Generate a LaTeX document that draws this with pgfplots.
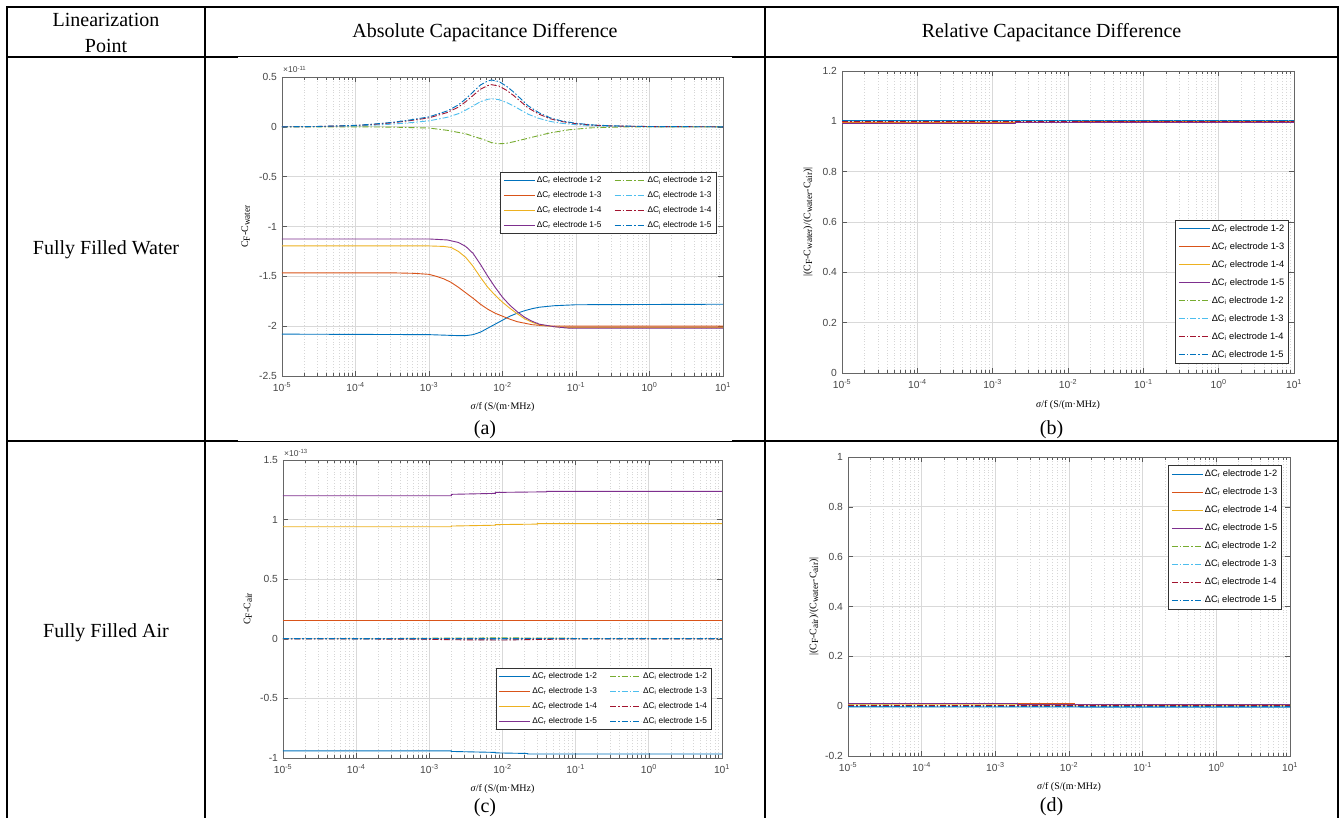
\documentclass[border=0pt]{standalone}
\usepackage{fontspec}
\setmainfont{Liberation Serif}
\newfontfamily\arialf{Liberation Sans}
\usepackage{pgfplots}
\pgfplotsset{compat=1.18}

\definecolor{mBlue}{rgb}{0,0.447,0.741}
\definecolor{mOrange}{rgb}{0.85,0.325,0.098}
\definecolor{mYellow}{rgb}{0.929,0.694,0.125}
\definecolor{mPurple}{rgb}{0.494,0.184,0.556}
\definecolor{mGreen}{rgb}{0.466,0.674,0.188}
\definecolor{mCyan}{rgb}{0.301,0.745,0.933}
\definecolor{mRed}{rgb}{0.635,0.078,0.184}

\newcommand{\tickfont}{\arialf\fontsize{10.3}{12}\selectfont}
\newcommand{\labfont}{\arialf\fontsize{12}{14}\selectfont}
\newcommand{\legfontA}{\arialf\fontsize{8.3}{10}\selectfont}
\newcommand{\legfontB}{\arialf\fontsize{9.3}{11}\selectfont}
\newcommand{\tabfont}{\fontsize{20}{23}\selectfont}
\newcommand{\smallfont}{\arialf\fontsize{8.5}{10}\selectfont}
\newcommand{\lsub}[1]{{\fontsize{9.3}{10}\selectfont\raisebox{-0.4ex}{#1}}}

\pgfplotsset{
  myaxis/.style={
    scale only axis, xmin=1e-5, xmax=10,
    xtick={1e-5,1e-4,1e-3,1e-2,1e-1,1,10},
    xticklabels={10\textsuperscript{-5},10\textsuperscript{-4},10\textsuperscript{-3},10\textsuperscript{-2},10\textsuperscript{-1},10\textsuperscript{0},10\textsuperscript{1}},
    minor xtick={2e-5,3e-5,4e-5,5e-5,6e-5,7e-5,8e-5,9e-5,
      2e-4,3e-4,4e-4,5e-4,6e-4,7e-4,8e-4,9e-4,
      2e-3,3e-3,4e-3,5e-3,6e-3,7e-3,8e-3,9e-3,
      0.02,0.03,0.04,0.05,0.06,0.07,0.08,0.09,
      0.2,0.3,0.4,0.5,0.6,0.7,0.8,0.9,
      2,3,4,5,6,7,8,9},
    xmajorgrids, xminorgrids, ymajorgrids,
    major grid style={draw=black!15, line width=0.7pt},
    minor grid style={draw=black!16, dash pattern=on 0.8pt off 2pt, line width=0.5pt},
    tick align=inside, major tick length=5pt, minor tick length=3pt,
    tick style={draw=black!65, line width=0.5pt},
    axis line style={draw=black!60, line width=0.7pt},
    tick label style={font=\tickfont, text=black!72},
    xticklabel style={yshift=-3pt},
    yticklabel style={xshift=-1.5pt},
    label style={font=\labfont, text=black!85},
    xlabel={\textit{σ}/f (S/(m·MHz)},
    every axis x label/.style={at={(axis description cs:0.5,-0.105)},anchor=center},
    legend image code/.code={\draw[##1, line width=1pt] (0pt,0pt) -- (31pt,0pt);},
    legend cell align=left,
  },
  myre/.style={line width=0.9pt},
  myim/.style={line width=0.9pt, dash pattern=on 6pt off 2pt on 1.5pt off 2pt},
  mylegA/.style={legend columns=2,
    legend style={font=\legfontA, draw=black!80, line width=0.6pt, fill=white,
      inner xsep=3pt, inner ysep=2pt, row sep=3pt,
      nodes={inner sep=1.5pt, text height=6.5pt, text depth=2.5pt},
      /tikz/every even column/.append style={column sep=11pt}}},
  mylegB/.style={legend columns=1,
    legend style={font=\legfontB, draw=black!80, line width=0.6pt, fill=white,
      inner xsep=3pt, inner ysep=2.5pt, row sep=5.5pt,
      nodes={inner sep=1.5pt, text height=7pt, text depth=2.5pt}}},
}

\begin{document}
\begin{tikzpicture}
\useasboundingbox (0pt,0pt) rectangle (1341pt,-818pt);
\fill[white] (0pt,0pt) rectangle (1341pt,-818pt);

% ---------- table lines ----------
\begin{scope}[line width=2pt]
\draw (6pt,-7pt) -- (1339pt,-7pt);
\draw (7pt,-7pt) -- (7pt,-818pt);
\draw (205pt,-7pt) -- (205pt,-818pt);
\draw (765pt,-7pt) -- (765pt,-818pt);
\draw (1338pt,-7pt) -- (1338pt,-818pt);
\draw (7pt,-57pt) -- (238pt,-57pt);
\draw (732pt,-57pt) -- (1338pt,-57pt);
\draw (7pt,-441pt) -- (238pt,-441pt);
\draw (732pt,-441pt) -- (1338pt,-441pt);
\end{scope}
\draw[line width=1pt] (238pt,-57pt) -- (732pt,-57pt);
\draw[line width=1pt] (238pt,-441pt) -- (732pt,-441pt);

% ---------- table text ----------
\node[anchor=base, font=\tabfont, inner sep=0pt] at (106pt,-27pt) {Linearization};
\node[anchor=base, font=\tabfont, inner sep=0pt] at (106pt,-53pt) {Point};
\node[anchor=base, font=\tabfont, inner sep=0pt] at (485pt,-38pt) {Absolute Capacitance Difference};
\node[anchor=base, font=\tabfont, inner sep=0pt] at (1051.5pt,-38pt) {Relative Capacitance Difference};
\node[anchor=base, font=\tabfont, inner sep=0pt] at (106pt,-255pt) {Fully Filled Water};
\node[anchor=base, font=\tabfont, inner sep=0pt] at (106pt,-637pt) {Fully Filled Air};
\node[font=\tabfont, inner sep=0pt] at (485pt,-430pt) {(a)};
\node[font=\tabfont, inner sep=0pt] at (1051.5pt,-430pt) {(b)};
\node[font=\tabfont, inner sep=0pt] at (485pt,-808pt) {(c)};
\node[font=\tabfont, inner sep=0pt] at (1051.5pt,-807pt) {(d)};

% ---------- (a) ----------
\begin{axis}[xmode=log, myaxis, name=pa, at={(282pt,-376pt)}, anchor=south west,
  width=441pt, height=299pt, ymin=-2.5, ymax=0.5,
  ytick={-2.5,-2,-1.5,-1,-0.5,0,0.5},
  yticklabels={-2.5,-2,-1.5,-1,-0.5,0,0.5},
  ylabel={C\lsub{F}-C\lsub{water}},
  every axis y label/.style={at={(axis description cs:-0.082,0.5)},anchor=center,rotate=90},
  mylegA, legend style={at={(0.985,0.475)}, anchor=south east}]
\addplot[myre, draw=mBlue] coordinates {(1e-5,-2.08)(1e-3,-2.085)(1.585e-3,-2.09)(2.512e-3,-2.095)(3.162e-3,-2.095)(3.981e-3,-2.085)(5.012e-3,-2.06)(6.310e-3,-2.02)(7.943e-3,-1.98)(1e-2,-1.94)(1.259e-2,-1.90)(1.585e-2,-1.87)(1.995e-2,-1.845)(2.512e-2,-1.825)(3.162e-2,-1.81)(5.012e-2,-1.795)(0.1,-1.785)(10,-1.78)};
\addplot[myim, draw=mGreen] coordinates {(1e-5,0)(1e-4,0)(3.162e-4,-0.003)(1e-3,-0.012)(1.778e-3,-0.035)(3.162e-3,-0.07)(5.623e-3,-0.13)(7.079e-3,-0.158)(8.913e-3,-0.17)(1.122e-2,-0.166)(1.413e-2,-0.15)(2.512e-2,-0.105)(4.467e-2,-0.06)(7.943e-2,-0.03)(0.1585,-0.01)(0.5012,0)(10,0)};
\addplot[myre, draw=mOrange] coordinates {(1e-5,-1.465)(3.162e-4,-1.465)(6.310e-4,-1.47)(1e-3,-1.48)(1.259e-3,-1.50)(1.585e-3,-1.525)(1.995e-3,-1.56)(2.512e-3,-1.61)(3.162e-3,-1.665)(3.981e-3,-1.72)(5.012e-3,-1.78)(6.310e-3,-1.83)(7.943e-3,-1.87)(1e-2,-1.90)(1.259e-2,-1.93)(1.585e-2,-1.955)(2.512e-2,-1.985)(3.981e-2,-1.998)(6.310e-2,-2.0)(10,-2.0)};
\addplot[myim, draw=mCyan] coordinates {(1e-5,0)(3.162e-5,0.0024)(1e-4,0.009)(1.778e-4,0.017)(3.162e-4,0.027)(5.623e-4,0.042)(1e-3,0.06)(1.778e-3,0.096)(2.512e-3,0.132)(3.162e-3,0.168)(3.981e-3,0.21)(5.012e-3,0.252)(6.310e-3,0.276)(7.079e-3,0.282)(8.913e-3,0.273)(1.122e-2,0.246)(1.413e-2,0.21)(1.778e-2,0.168)(2.239e-2,0.126)(3.162e-2,0.084)(4.467e-2,0.054)(6.310e-2,0.036)(0.1,0.021)(0.1778,0.011)(0.3162,0.006)(1,0.002)(10,0)};
\addplot[myre, draw=mYellow] coordinates {(1e-5,-1.195)(1e-3,-1.195)(1.585e-3,-1.2)(1.995e-3,-1.21)(2.512e-3,-1.25)(3.162e-3,-1.31)(3.981e-3,-1.40)(5.012e-3,-1.51)(6.310e-3,-1.61)(7.943e-3,-1.69)(1e-2,-1.76)(1.259e-2,-1.82)(1.585e-2,-1.875)(1.995e-2,-1.925)(2.512e-2,-1.96)(3.162e-2,-1.985)(5.012e-2,-2.005)(7.943e-2,-2.015)(10,-2.015)};
\addplot[myim, draw=mRed] coordinates {(1e-5,0)(3.162e-5,0.0036)(1e-4,0.0135)(1.778e-4,0.025)(3.162e-4,0.04)(5.623e-4,0.063)(1e-3,0.09)(1.778e-3,0.144)(2.512e-3,0.198)(3.162e-3,0.252)(3.981e-3,0.315)(5.012e-3,0.378)(6.310e-3,0.414)(7.079e-3,0.423)(8.913e-3,0.41)(1.122e-2,0.369)(1.413e-2,0.315)(1.778e-2,0.252)(2.239e-2,0.189)(3.162e-2,0.126)(4.467e-2,0.081)(6.310e-2,0.054)(0.1,0.0315)(0.1778,0.016)(0.3162,0.009)(1,0.003)(10,0)};
\addplot[myre, draw=mPurple] coordinates {(1e-5,-1.125)(1e-3,-1.125)(1.778e-3,-1.135)(2.512e-3,-1.16)(3.162e-3,-1.20)(3.981e-3,-1.27)(5.012e-3,-1.38)(6.310e-3,-1.50)(7.943e-3,-1.61)(1e-2,-1.71)(1.259e-2,-1.79)(1.585e-2,-1.855)(1.995e-2,-1.91)(2.512e-2,-1.95)(3.162e-2,-1.98)(5.012e-2,-2.005)(7.943e-2,-2.02)(10,-2.02)};
\addplot[myim, draw=mBlue] coordinates {(1e-5,0)(3.162e-5,0.004)(1e-4,0.015)(1.778e-4,0.028)(3.162e-4,0.045)(5.623e-4,0.07)(1e-3,0.10)(1.778e-3,0.16)(2.512e-3,0.22)(3.162e-3,0.28)(3.981e-3,0.35)(5.012e-3,0.42)(6.310e-3,0.46)(7.079e-3,0.47)(8.913e-3,0.455)(1.122e-2,0.41)(1.413e-2,0.35)(1.778e-2,0.28)(2.239e-2,0.21)(3.162e-2,0.14)(4.467e-2,0.09)(6.310e-2,0.06)(0.1,0.035)(0.1778,0.018)(0.3162,0.01)(1,0.003)(10,0)};
\legend{ΔC\textsubscript{r} electrode 1-2, ΔC\textsubscript{i} electrode 1-2,
        ΔC\textsubscript{r} electrode 1-3, ΔC\textsubscript{i} electrode 1-3,
        ΔC\textsubscript{r} electrode 1-4, ΔC\textsubscript{i} electrode 1-4,
        ΔC\textsubscript{r} electrode 1-5, ΔC\textsubscript{i} electrode 1-5}
\end{axis}
\node[anchor=base west, font=\smallfont, text=black!72, inner sep=0pt] at ([xshift=1pt,yshift=4pt]pa.north west) {×10\textsuperscript{-11}};

% ---------- (b) ----------
\begin{axis}[xmode=log, myaxis, name=pb, at={(842pt,-373pt)}, anchor=south west,
  width=452pt, height=302pt, ymin=0, ymax=1.2,
  ytick={0,0.2,0.4,0.6,0.8,1,1.2},
  yticklabels={0,0.2,0.4,0.6,0.8,1,1.2},
  ylabel={|(C\lsub{F}-C\lsub{water})/(C\lsub{water}-C\lsub{air})|},
  every axis y label/.style={at={(axis description cs:-0.075,0.5)},anchor=center,rotate=90},
  mylegB, legend style={at={(0.989,0.03)}, anchor=south east}]
\addplot[myre, draw=mBlue] coordinates {(1e-5,1.004)(10,1.004)};
\addplot[myre, draw=mOrange] coordinates {(1e-5,0.995)(1.2e-2,0.995)(1.2e-2,0.998)(10,0.998)};
\addplot[myre, draw=mYellow] coordinates {(1e-5,0.993)(2e-3,0.993)(2e-3,0.996)(10,0.997)};
\addplot[myre, draw=mPurple] coordinates {(1e-5,0.99)(2e-3,0.99)(2e-3,0.994)(1.2e-2,0.994)(1.2e-2,0.996)(10,0.996)};
\addplot[myim, draw=mGreen] coordinates {(1e-5,0.998)(10,0.998)};
\addplot[myim, draw=mCyan] coordinates {(1e-5,1.002)(10,1.002)};
\addplot[myim, draw=mRed] coordinates {(1e-5,1.0)(10,1.0)};
\addplot[myim, draw=mBlue] coordinates {(1e-5,1.005)(2e-3,1.005)(2e-3,1.004)(10,1.004)};
\legend{ΔC\textsubscript{r} electrode 1-2, ΔC\textsubscript{r} electrode 1-3,
        ΔC\textsubscript{r} electrode 1-4, ΔC\textsubscript{r} electrode 1-5,
        ΔC\textsubscript{i} electrode 1-2, ΔC\textsubscript{i} electrode 1-3,
        ΔC\textsubscript{i} electrode 1-4, ΔC\textsubscript{i} electrode 1-5}
\end{axis}

% ---------- (c) ----------
\begin{axis}[xmode=log, myaxis, name=pc, at={(283pt,-758pt)}, anchor=south west,
  width=439pt, height=298pt, ymin=-1, ymax=1.5,
  ytick={-1,-0.5,0,0.5,1,1.5},
  yticklabels={-1,-0.5,0,0.5,1,1.5},
  ylabel={C\lsub{F}-C\lsub{air}},
  every axis y label/.style={at={(axis description cs:-0.08,0.5)},anchor=center,rotate=90},
  mylegA, legend style={at={(0.977,0.096)}, anchor=south east}]
\addplot[myre, draw=mBlue] coordinates {(1e-5,-0.94)(2e-3,-0.94)(2e-3,-0.945)(8e-3,-0.953)(8e-3,-0.957)(2.2e-2,-0.962)(2.2e-2,-0.966)(10,-0.966)};
\addplot[myim, draw=mGreen] coordinates {(1e-5,0)(2.5e-4,0.002)(1e-3,0.005)(1e-2,0.008)(8e-2,0.005)(0.1,0.001)(10,0)};
\addplot[myre, draw=mOrange] coordinates {(1e-5,0.156)(10,0.156)};
\addplot[myim, draw=mCyan] coordinates {(1e-5,0)(2e-3,-0.005)(1.2e-2,-0.008)(5e-2,-0.002)(10,0)};
\addplot[myre, draw=mYellow] coordinates {(1e-5,0.94)(2e-3,0.94)(2e-3,0.946)(8e-3,0.953)(8e-3,0.958)(3e-2,0.962)(3e-2,0.966)(10,0.966)};
\addplot[myim, draw=mRed] coordinates {(1e-5,0)(8e-4,-0.003)(2e-3,-0.008)(1e-2,-0.01)(8e-2,-0.002)(10,0)};
\addplot[myre, draw=mPurple] coordinates {(1e-5,1.2)(2e-3,1.2)(2e-3,1.212)(8e-3,1.22)(8e-3,1.228)(4e-2,1.233)(4e-2,1.237)(10,1.237)};
\addplot[myim, draw=mBlue] coordinates {(1e-5,0)(10,0)};
\legend{ΔC\textsubscript{r} electrode 1-2, ΔC\textsubscript{i} electrode 1-2,
        ΔC\textsubscript{r} electrode 1-3, ΔC\textsubscript{i} electrode 1-3,
        ΔC\textsubscript{r} electrode 1-4, ΔC\textsubscript{i} electrode 1-4,
        ΔC\textsubscript{r} electrode 1-5, ΔC\textsubscript{i} electrode 1-5}
\end{axis}
\node[anchor=base west, font=\smallfont, text=black!72, inner sep=0pt] at ([xshift=1pt,yshift=4pt]pc.north west) {×10\textsuperscript{-13}};

% ---------- (d) ----------
\begin{axis}[xmode=log, myaxis, name=pd, at={(848pt,-756pt)}, anchor=south west,
  width=442pt, height=299pt, ymin=-0.2, ymax=1,
  ytick={-0.2,0,0.2,0.4,0.6,0.8,1},
  yticklabels={-0.2,0,0.2,0.4,0.6,0.8,1},
  ylabel={|(C\lsub{F}-C\lsub{air})/(C\lsub{water}-C\lsub{air})|},
  every axis y label/.style={at={(axis description cs:-0.077,0.5)},anchor=center,rotate=90},
  mylegB, legend style={at={(0.982,0.973)}, anchor=north east}]
\addplot[myre, draw=mBlue] coordinates {(1e-5,-0.003)(10,-0.004)};
\addplot[myre, draw=mOrange] coordinates {(1e-5,0.01)(1.2e-2,0.01)(1.2e-2,0.006)(10,0.006)};
\addplot[myre, draw=mYellow] coordinates {(1e-5,0.008)(2e-3,0.008)(2e-3,0.005)(10,0.004)};
\addplot[myre, draw=mPurple] coordinates {(1e-5,0.012)(2e-3,0.012)(2e-3,0.008)(1.2e-2,0.008)(1.2e-2,0.005)(10,0.005)};
\addplot[myim, draw=mGreen] coordinates {(1e-5,0.004)(10,0.003)};
\addplot[myim, draw=mCyan] coordinates {(1e-5,-0.002)(10,-0.002)};
\addplot[myim, draw=mRed] coordinates {(1e-5,0.001)(10,0.001)};
\addplot[myim, draw=mBlue] coordinates {(1e-5,-0.001)(10,-0.001)};
\legend{ΔC\textsubscript{r} electrode 1-2, ΔC\textsubscript{r} electrode 1-3,
        ΔC\textsubscript{r} electrode 1-4, ΔC\textsubscript{r} electrode 1-5,
        ΔC\textsubscript{i} electrode 1-2, ΔC\textsubscript{i} electrode 1-3,
        ΔC\textsubscript{i} electrode 1-4, ΔC\textsubscript{i} electrode 1-5}
\end{axis}
\end{tikzpicture}
\end{document}
